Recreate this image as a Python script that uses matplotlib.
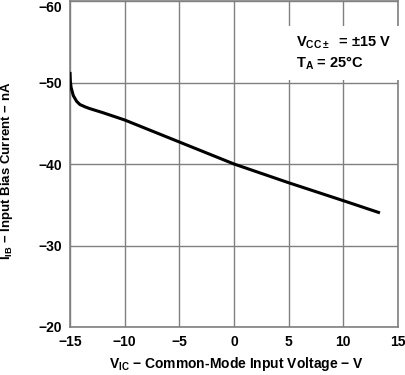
import matplotlib
matplotlib.use("Agg")
import matplotlib.pyplot as plt

# data
vic = [-15.0, -14.97, -14.9, -14.7, -14.4, -14.1, -13.6, -13.2, -12.0, -10.0, -5.0, 0.0, 5.0, 10.0, 13.35]
iib = [-51.3, -50.2, -49.4, -48.4, -47.7, -47.3, -47.0, -46.8, -46.3, -45.4, -42.7, -40.0, -37.7, -35.5, -34.0]

xticks = [-15, -10, -5, 0, 5, 10, 15]
yticks = [-20, -30, -40, -50, -60]

MINUS = "\u2212"

plt.rcParams["font.family"] = "Liberation Sans"
plt.rcParams["font.weight"] = "bold"
plt.rcParams["mathtext.fontset"] = "custom"
plt.rcParams["mathtext.rm"] = "Liberation Sans:bold"
plt.rcParams["mathtext.it"] = "Liberation Sans:bold"
plt.rcParams["mathtext.bf"] = "Liberation Sans:bold"

fig = plt.figure(figsize=(4.06, 3.75), dpi=100)
# plot area: x 70..398 px, y 1..327 px
ax = fig.add_axes([70 / 406, 48 / 375, 328 / 406, 326 / 375])

ax.plot(vic, iib, color="black", lw=2.2, solid_capstyle="butt", zorder=3)

ax.set_xlim(-15, 15)
ax.set_ylim(-20, -60)
ax.set_xticks(xticks)
ax.set_yticks(yticks)
ax.set_xticklabels([str(t).replace("-", MINUS) for t in xticks])
ax.set_yticklabels([str(t).replace("-", MINUS) for t in yticks])
ax.tick_params(length=0, labelsize=10, pad=6)
for lab in ax.get_xticklabels() + ax.get_yticklabels():
    lab.set_fontweight("bold")
# top label sits just under the top edge, as in the reference
ax.get_yticklabels()[-1].set_verticalalignment("top")

ax.grid(True, color="#808080", lw=1.0)
for s in ax.spines.values():
    s.set_color("#808080")
    s.set_linewidth(1.2)

ax.set_xlabel("$\\mathrm{V_{IC}}$ " + MINUS + " Common-Mode Input Voltage " + MINUS + " V",
              fontsize=10, fontweight="bold")
ax.xaxis.set_label_coords(0.509, -0.085)
ax.set_ylabel("$\\mathrm{I_{IB}}$ " + MINUS + " Input Bias Current " + MINUS + " nA",
              fontsize=9.5, fontweight="bold")
ax.yaxis.set_label_coords(-0.168, 0.479)

ax.text(0.69, 0.840, "$\\mathrm{V_{CC\\pm}}$  = \u00b115 V\n$\\mathrm{T_A}$ = 25\u00b0C",
        transform=ax.transAxes, ha="left", va="center", fontsize=10.5, fontweight="bold",
        linespacing=1.25,
        bbox=dict(facecolor="white", edgecolor="none", pad=6), zorder=4)

fig.savefig("out.png", dpi=100)
